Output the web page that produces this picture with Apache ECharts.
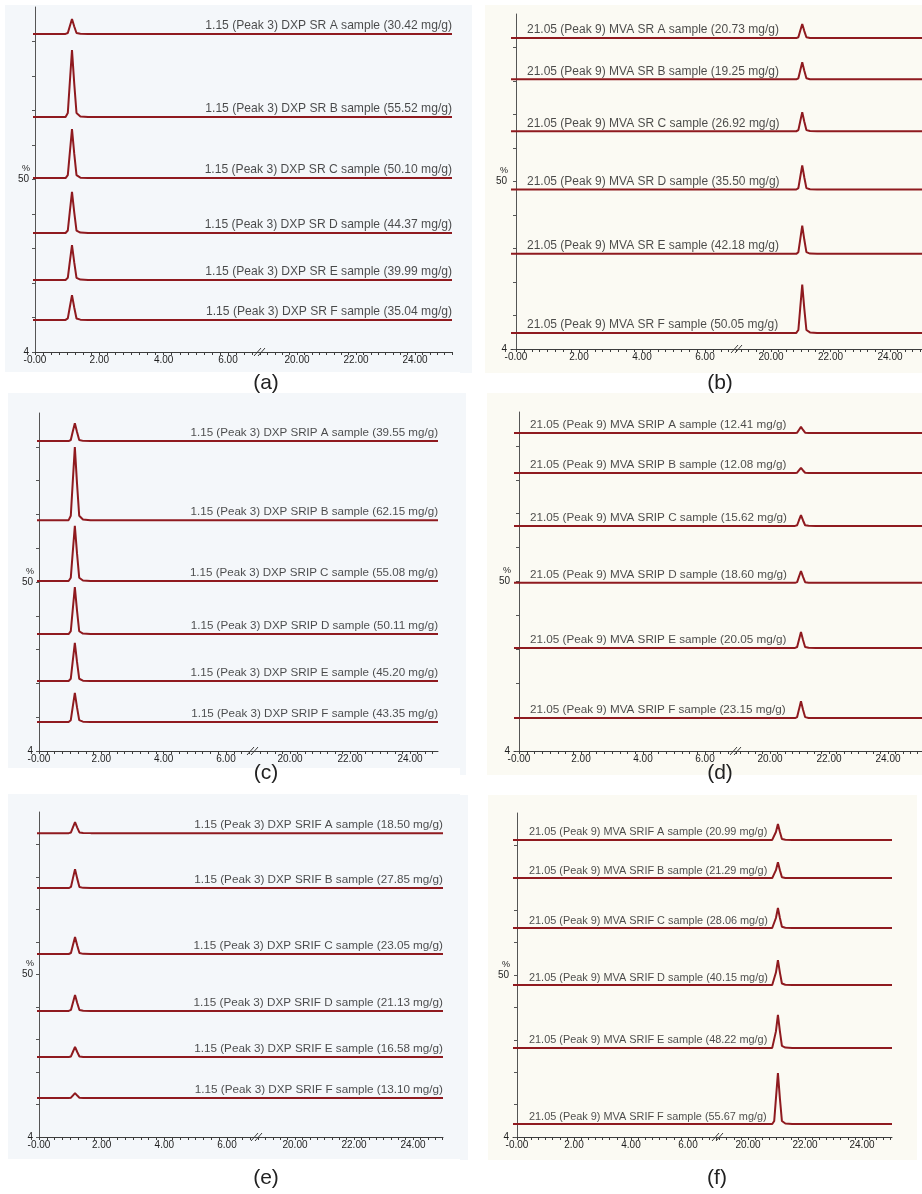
<!DOCTYPE html>
<html>
<head>
<meta charset="utf-8">
<title>DXP and MVA chromatograms</title>
<script src="https://cdn.jsdelivr.net/npm/echarts@6/dist/echarts.min.js"></script>
<style>
  html, body { margin: 0; padding: 0; background: #ffffff; }
  #chart { width: 922px; height: 1194px; }
</style>
</head>
<body>
<div id="chart"></div>
<script>
// ---- data -------------------------------------------------------------
const SAMPLES = ['A', 'B', 'C', 'D', 'E', 'F'];

// (a) DXP, SR extraction
const A_CONC = [30.42, 55.52, 50.10, 44.37, 39.99, 35.04];
const A_BASE = [92.2, 68.1, 50.4, 34.5, 20.9, 9.3];
const A_PEAK = [4.3, 19.4, 14.2, 11.9, 10.1, 7.2];

// (b) MVA, SR extraction
const B_CONC = [20.73, 19.25, 26.92, 35.50, 42.18, 50.05];
const B_BASE = [92.8, 80.5, 65.0, 47.6, 28.4, 4.8];
const B_PEAK = [4.2, 5.1, 5.7, 7.2, 8.4, 14.4];

// (c) DXP, SRIP extraction
const C_CONC = [39.55, 62.15, 55.08, 50.11, 45.20, 43.35];
const C_BASE = [91.7, 68.3, 50.3, 34.6, 20.7, 8.6];
const C_PEAK = [5.3, 21.6, 16.3, 13.9, 11.3, 8.6];

// (d) MVA, SRIP extraction
const D_CONC = [12.41, 12.08, 15.62, 18.60, 20.05, 23.15];
const D_BASE = [93.8, 82.0, 66.4, 49.6, 30.4, 9.7];
const D_PEAK = [1.8, 1.5, 3.2, 3.5, 4.7, 5.0];

// (e) DXP, SRIF extraction
const E_CONC = [18.50, 27.85, 23.05, 21.13, 16.58, 13.10];
const E_BASE = [93.5, 76.6, 56.3, 38.8, 24.6, 12.0];
const E_PEAK = [3.4, 5.8, 5.2, 4.9, 3.1, 1.5];

// (f) MVA, SRIF extraction
const F_CONC = [20.99, 21.29, 28.06, 40.15, 48.22, 55.67];
const F_BASE = [91.7, 79.9, 64.5, 46.9, 27.5, 4.0];
const F_PEAK = [4.9, 4.9, 6.2, 7.7, 10.2, 15.7];

// retention-time tick labels on each side of the axis break
const X_LABELS_LEFT = [0, 2, 4, 6];
const X_LABELS_RIGHT = [20, 22, 24];
// intensity axis labels (%)
const Y_LABEL_VALUES = [0, 50];
const Y_LABEL_TEXT = ['4', '50'];
const Y_TICKS = [0, 10, 20, 30, 40, 50, 60, 70, 80, 90];

// normalised peak outline: [offset from retention time (min), fraction of peak height]
const PEAK_PROFILE = [[-0.2, 0], [-0.13, 0.06], [-0.07, 0.5], [0, 1], [0.07, 0.5], [0.14, 0.06], [0.26, 0.01], [0.5, 0]];

const PANELS = [
  { id: 'a', compound: 'DXP', group: 'SR',   rt: '1.15',  peakNo: 3, peakAt: 1.15,  side: 'left',  conc: A_CONC, base: A_BASE, height: A_PEAK },
  { id: 'b', compound: 'MVA', group: 'SR',   rt: '21.05', peakNo: 9, peakAt: 21.05, side: 'right', conc: B_CONC, base: B_BASE, height: B_PEAK },
  { id: 'c', compound: 'DXP', group: 'SRIP', rt: '1.15',  peakNo: 3, peakAt: 1.15,  side: 'left',  conc: C_CONC, base: C_BASE, height: C_PEAK },
  { id: 'd', compound: 'MVA', group: 'SRIP', rt: '21.05', peakNo: 9, peakAt: 21.05, side: 'right', conc: D_CONC, base: D_BASE, height: D_PEAK },
  { id: 'e', compound: 'DXP', group: 'SRIF', rt: '1.15',  peakNo: 3, peakAt: 1.15,  side: 'left',  conc: E_CONC, base: E_BASE, height: E_PEAK },
  { id: 'f', compound: 'MVA', group: 'SRIF', rt: '21.05', peakNo: 9, peakAt: 21.05, side: 'right', conc: F_CONC, base: F_BASE, height: F_PEAK }
];

// ---- layout (pixels) -------------------------------------------------
// axisX: y-axis line, top/bottom: plot extent, t0/t6/t20/t24: pixel of those
// retention times, brk: axis break, end: right end of the time axis
const LAYOUT = {
  a: { bg: [5, 5, 455, 367], axisX: 33, top: 7, bottom: 352, t0: 35, t6: 228, brk: 260, t20: 297, t24: 415, end: 452, font: 12.1, cap: [266, 383] },
  b: { bg: [485, 5, 437, 368], strip: [460, 5, 12, 368], axisX: 511, top: 14, bottom: 349, t0: 516, t6: 705, brk: 737, t20: 771, t24: 890, end: 945, font: 12, cap: [720, 383] },
  c: { bg: [8, 393, 452, 375], axisX: 37, top: 413, bottom: 751, t0: 39, t6: 226, brk: 253, t20: 290, t24: 410, end: 438, font: 11.6, cap: [266, 773] },
  d: { bg: [487, 393, 435, 382], strip: [460, 393, 6, 382], axisX: 514, top: 412, bottom: 751, t0: 519, t6: 705, brk: 736, t20: 770, t24: 888, end: 945, font: 11.7, cap: [720, 773] },
  e: { bg: [8, 794, 452, 365], axisX: 37, top: 812, bottom: 1137, t0: 39, t6: 227, brk: 257, t20: 295, t24: 413, end: 443, font: 11.7, cap: [266, 1178] },
  f: { bg: [488, 795, 429, 365], strip: [460, 795, 8, 365], axisX: 513, top: 813, bottom: 1137, t0: 517, t6: 688, brk: 718, t20: 748, t24: 862, end: 892, font: 10.9, cap: [717, 1178] }
};

const FONT = "'Liberation Sans', Arial, Helvetica, sans-serif";
const TRACE_COLOR = '#8f1a1f';
const TEXT_COLOR = '#1e1e1e';
const AXIS_COLOR = '#3c3c3c';
const LEFT_BG = '#f4f7fa';
const RIGHT_BG = '#fbfaf3';
const TICK_STEP = 0.25;

function tickList(min, max, step) {
  const out = [];
  for (let k = Math.ceil(min / step - 1e-9); k * step <= max + 1e-9; k++) out.push(+(k * step).toFixed(4));
  return out;
}

function timeLabel(v) {
  return v === 0 ? '-0.00' : v.toFixed(2);
}

function traceData(min, max, base, h, peakAt, withPeak) {
  const pts = [[min, base]];
  if (withPeak) PEAK_PROFILE.forEach(([dx, f]) => pts.push([peakAt + dx, base + f * h]));
  pts.push([max, base]);
  return pts;
}

const grids = [], xAxes = [], yAxes = [], series = [], graphics = [];

PANELS.forEach((p, pi) => {
  const L = LAYOUT[p.id];
  const scaleL = (L.t6 - L.t0) / 6;
  const minL = (L.axisX - L.t0) / scaleL;
  const maxL = (L.brk - L.t0) / scaleL;
  const scaleR = (L.t24 - L.t20) / 4;
  const minR = 20 - (L.t20 - L.brk) / scaleR;
  const maxR = 24 + (L.end - L.t24) / scaleR;
  const gl = pi * 2, gr = pi * 2 + 1;

  // panel backgrounds
  if (L.strip) graphics.push({ type: 'rect', z: -10, silent: true, shape: { x: L.strip[0], y: L.strip[1], width: L.strip[2], height: L.strip[3] }, style: { fill: LEFT_BG } });
  graphics.push({ type: 'rect', z: -10, silent: true, shape: { x: L.bg[0], y: L.bg[1], width: L.bg[2], height: L.bg[3] }, style: { fill: p.side === 'left' ? LEFT_BG : RIGHT_BG } });

  const gridBase = { top: L.top, height: L.bottom - L.top, containLabel: false, outerBoundsMode: 'none' };
  grids.push(Object.assign({ left: L.axisX, width: L.brk - L.axisX }, gridBase));
  grids.push(Object.assign({ left: L.brk, width: L.end - L.brk }, gridBase));

  const xCommon = {
    type: 'value',
    axisLine: { show: true, lineStyle: { color: AXIS_COLOR, width: 1 } },
    axisTick: { show: true, inside: false, length: 3, lineStyle: { color: AXIS_COLOR } },
    axisLabel: { show: true, margin: 3, fontSize: 10, fontFamily: FONT, color: TEXT_COLOR, formatter: timeLabel },
    splitLine: { show: false }
  };
  xAxes.push(Object.assign({}, xCommon, {
    gridIndex: gl, min: minL, max: maxL,
    axisTick: Object.assign({}, xCommon.axisTick, { customValues: tickList(minL, maxL, TICK_STEP) }),
    axisLabel: Object.assign({}, xCommon.axisLabel, { customValues: X_LABELS_LEFT })
  }));
  xAxes.push(Object.assign({}, xCommon, {
    gridIndex: gr, min: minR, max: maxR,
    axisTick: Object.assign({}, xCommon.axisTick, { customValues: tickList(minR, maxR, TICK_STEP) }),
    axisLabel: Object.assign({}, xCommon.axisLabel, { customValues: X_LABELS_RIGHT })
  }));

  yAxes.push({
    type: 'value', gridIndex: gl, min: 0, max: 100,
    axisLine: { show: true, lineStyle: { color: '#555555', width: 1 } },
    axisTick: { show: true, inside: false, length: 3, customValues: Y_TICKS, lineStyle: { color: '#555555' } },
    axisLabel: {
      show: true, margin: 4, fontSize: 10, fontFamily: FONT, color: TEXT_COLOR,
      customValues: Y_LABEL_VALUES,
      formatter: v => Y_LABEL_TEXT[Y_LABEL_VALUES.indexOf(v)] || ''
    },
    splitLine: { show: false }
  });
  yAxes.push({ type: 'value', gridIndex: gr, min: 0, max: 100, show: false, splitLine: { show: false } });

  // stacked chromatogram traces
  p.base.forEach((b, i) => {
    const lineStyle = { color: TRACE_COLOR, width: 2 };
    const common = { type: 'line', showSymbol: false, symbol: 'none', silent: true, animation: false, lineStyle, itemStyle: { color: TRACE_COLOR }, z: 3 };
    series.push(Object.assign({ name: p.id + '-' + SAMPLES[i] + '-L', xAxisIndex: gl, yAxisIndex: gl,
      data: traceData(minL, maxL, b, p.height[i], p.peakAt, p.side === 'left') }, common));
    series.push(Object.assign({ name: p.id + '-' + SAMPLES[i] + '-R', xAxisIndex: gr, yAxisIndex: gr,
      data: traceData(minR, maxR, b, p.height[i], p.peakAt, p.side === 'right') }, common));
  });

  // trace captions
  const onRight = p.side === 'left';
  series.push({
    type: 'scatter', silent: true, animation: false, symbolSize: 0, z: 4,
    xAxisIndex: onRight ? gr : gl, yAxisIndex: onRight ? gr : gl,
    data: p.base.map((b, i) => ({
      value: [onRight ? maxR : minL, b],
      name: p.rt + ' (Peak ' + p.peakNo + ') ' + p.compound + ' ' + p.group + ' ' + SAMPLES[i] + ' sample (' + p.conc[i].toFixed(2) + ' mg/g)'
    })),
    label: {
      show: true, position: 'top', distance: 2,
      align: onRight ? 'right' : 'left',
      offset: onRight ? [0, 0] : [16, 0],
      formatter: '{b}', fontSize: L.font, fontFamily: FONT, color: TEXT_COLOR
    }
  });

  // percent sign above the 50 label
  const y50 = (L.top + L.bottom) / 2;
  graphics.push({ type: 'text', z: 20, silent: true, x: L.axisX - 3, y: y50 - 6,
    style: { text: '%', fontSize: 9, fontFamily: FONT, fill: TEXT_COLOR, align: 'right', verticalAlign: 'bottom' } });

  // axis break mark
  [-3, 1].forEach(dx => {
    graphics.push({ type: 'line', z: 20, silent: true,
      shape: { x1: L.brk + dx - 3, y1: L.bottom + 4, x2: L.brk + dx + 4, y2: L.bottom - 4 },
      style: { stroke: AXIS_COLOR, lineWidth: 1 } });
  });

  // panel caption
  graphics.push({ type: 'text', z: 20, silent: true, x: L.cap[0], y: L.cap[1],
    style: { text: '(' + p.id + ')', fontSize: 21, fontFamily: FONT, fill: '#222222', align: 'center', verticalAlign: 'middle' } });
});

const chart = echarts.init(document.getElementById('chart'), null, { renderer: 'canvas' });
chart.setOption({
  animation: false,
  backgroundColor: '#ffffff',
  grid: grids,
  xAxis: xAxes,
  yAxis: yAxes,
  series: series,
  graphic: graphics
});
</script>
</body>
</html>
